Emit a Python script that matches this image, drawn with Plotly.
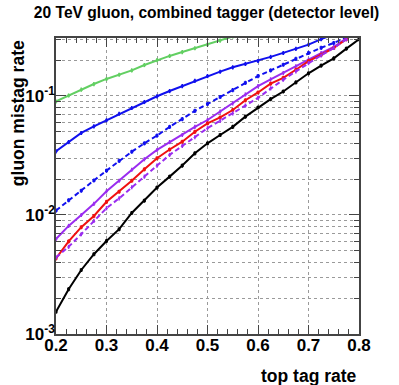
"""20 TeV gluon mistag rate vs top tag rate (combined tagger)."""

import plotly.graph_objects as go

# top tag rate (x) sampled every 0.025
top_rate = [0.2, 0.225, 0.25, 0.275, 0.3, 0.325, 0.35, 0.375, 0.4, 0.425,
            0.45, 0.475, 0.5, 0.525, 0.55, 0.575, 0.6, 0.625, 0.65, 0.675,
            0.7, 0.725, 0.75, 0.775, 0.8]

# gluon mistag rate per curve (None = off the chart)
green_solid = [0.090, 0.101, 0.113, 0.126, 0.139, 0.151, 0.164, 0.182, 0.200, 0.217,
               0.234, 0.252, 0.270, 0.292, 0.316, None, None, None, None, None,
               None, None, None, None, None]
blue_solid = [0.0343, 0.041, 0.0489, 0.0556, 0.0625, 0.071, 0.0793, 0.089, 0.0994, 0.110,
              0.121, 0.134, 0.147, 0.160, 0.174, 0.186, 0.197, 0.213, 0.230, 0.249,
              0.270, 0.300, 0.33, None, None]
blue_dashed = [0.0109, 0.0133, 0.016, 0.0195, 0.0236, 0.0285, 0.0340, 0.040, 0.0465, 0.055,
               0.064, 0.075, 0.0857, 0.098, 0.112, 0.129, 0.147, 0.164, 0.183, 0.205,
               0.230, 0.254, 0.279, 0.31, None]
purple_solid = [0.00628, 0.0081, 0.0100, 0.0124, 0.0158, 0.0194, 0.0240, 0.0294, 0.0352, 0.041,
                0.047, 0.055, 0.0628, 0.074, 0.0868, 0.103, 0.121, 0.138, 0.156, 0.178,
                0.202, 0.229, 0.258, 0.305, None]
red_solid = [0.00432, 0.0060, 0.0079, 0.0098, 0.0129, 0.0157, 0.0194, 0.0242, 0.0300, 0.0355,
             0.0413, 0.050, 0.0589, 0.066, 0.0762, 0.092, 0.107, 0.127, 0.142, 0.166,
             0.196, 0.222, 0.253, 0.30, None]
purple_dashed = [0.0044, 0.0054, 0.0069, 0.0089, 0.0114, 0.0138, 0.0171, 0.021, 0.026, 0.032,
                 0.038, 0.045, 0.0536, 0.062, 0.0714, 0.083, 0.0965, 0.116, 0.137, 0.161,
                 0.189, 0.219, 0.253, 0.30, None]
black_solid = [0.00154, 0.00238, 0.00345, 0.00468, 0.00605, 0.0076, 0.0104, 0.0132, 0.0170, 0.021,
               0.026, 0.033, 0.040, 0.047, 0.055, 0.067, 0.080, 0.094, 0.109, 0.130,
               0.155, 0.180, 0.207, 0.25, 0.30]

x_ticks = [0.2, 0.3, 0.4, 0.5, 0.6, 0.7, 0.8]
y_ticks = [0.001, 0.01, 0.1]
y_ticktext = ["10<sup>-3</sup>", "10<sup>-2</sup>", "10<sup>-1</sup>"]
y_minor = [m * d for d in (0.001, 0.01, 0.1) for m in range(2, 10)]

CURVES = [
    (green_solid, "#62cf62", "solid", "circle"),
    (blue_solid, "#1010ee", "solid", "circle"),
    (blue_dashed, "#1010ee", "5px,3px", "square"),
    (purple_solid, "#9a2cf0", "solid", "triangle-up"),
    (red_solid, "#f01010", "solid", "square"),
    (purple_dashed, "#9a2cf0", "5px,3px", "triangle-up"),
    (black_solid, "#000000", "solid", "square"),
]

FONT = "Liberation Sans, Arial, Helvetica, sans-serif"

fig = go.Figure()
for values, color, dash, symbol in CURVES:
    fig.add_trace(
        go.Scatter(
            x=top_rate,
            y=values,
            mode="lines+markers",
            line=dict(color=color, width=2, dash=dash),
            marker=dict(color=color, size=3, symbol=symbol),
            error_y=dict(type="percent", value=4, color=color, thickness=1.5, width=0),
            connectgaps=False,
            showlegend=False,
        )
    )

axis_common = dict(
    ticks="inside",
    mirror="ticks",
    showline=True,
    linecolor="#444444",
    linewidth=1.5,
    tickcolor="#444444",
    showgrid=True,
    gridcolor="#9a9a9a",
    griddash="dot",
    gridwidth=1,
    zeroline=False,
    tickfont=dict(family=FONT, size=17, color="black", weight="bold"),
)

fig.update_layout(
    width=399,
    height=385,
    margin=dict(l=56, r=40, t=38, b=51),
    paper_bgcolor="white",
    plot_bgcolor="white",
    title=dict(
        text="20 TeV gluon, combined tagger (detector level)",
        xref="paper",
        x=0.497,
        xanchor="center",
        y=0.968,
        yanchor="middle",
        font=dict(family=FONT, size=15.6, color="black", weight="bold"),
    ),
    xaxis=dict(
        range=[0.2, 0.8],
        tickvals=x_ticks,
        ticktext=["0.2", "0.3", "0.4", "0.5", "0.6", "0.7", "0.8"],
        ticklen=9,
        ticklabelstandoff=-5,
        minor=dict(dtick=0.02, ticklen=5, ticks="inside", tickcolor="#444444", showgrid=False),
        **axis_common,
    ),
    yaxis=dict(
        type="log",
        range=[-3, -0.513],
        tickvals=y_ticks,
        ticktext=y_ticktext,
        ticklen=10,
        ticklabelstandoff=-4,
        minor=dict(tickvals=y_minor, ticklen=5, ticks="inside", tickcolor="#444444",
                   showgrid=True, gridcolor="#9a9a9a", griddash="dot"),
        **axis_common,
    ),
    annotations=[
        dict(
            text="top tag rate",
            xref="paper", yref="paper",
            x=1.0, y=-0.102,
            xanchor="right", yanchor="top",
            showarrow=False,
            font=dict(family=FONT, size=17.5, color="black", weight="bold"),
        ),
        dict(
            text="gluon mistag rate",
            xref="paper", yref="paper",
            x=-0.125, y=1.0,
            xanchor="center", yanchor="top",
            textangle=-90,
            showarrow=False,
            font=dict(family=FONT, size=17.5, color="black", weight="bold"),
        ),
    ],
)

# the page's default body margin would shift the fixed-size figure
fig.write_html(
    "out.html",
    config={"displayModeBar": False},
    post_script="document.body.style.margin='0';",
)
